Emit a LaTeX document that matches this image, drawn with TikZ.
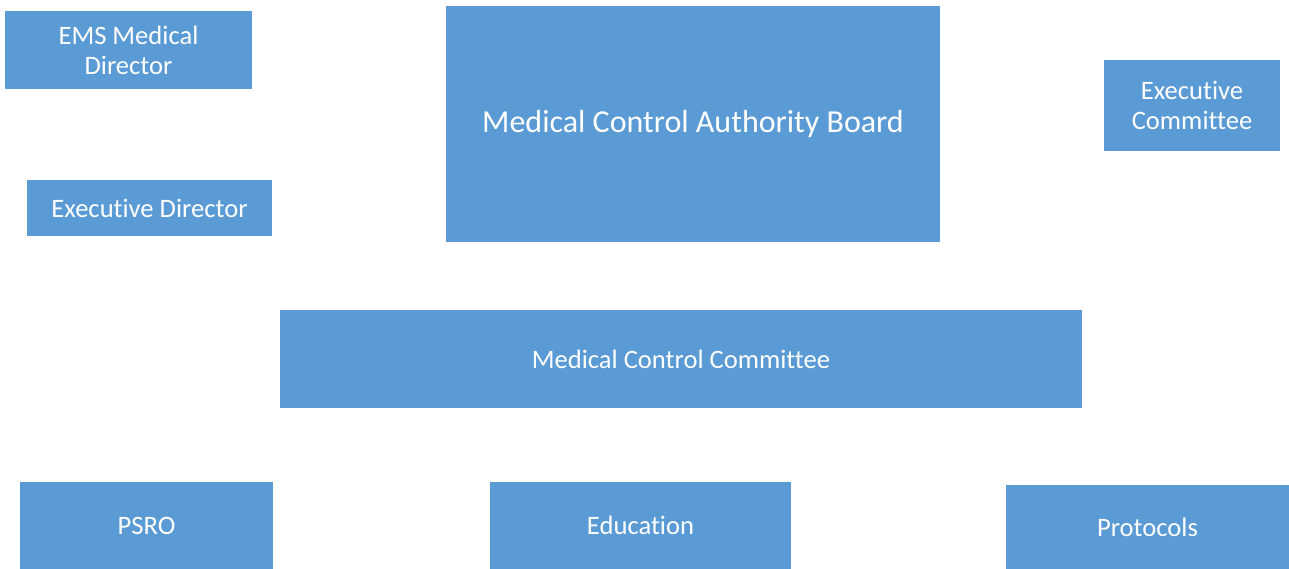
\documentclass[tikz,border=0pt]{standalone}
\usepackage{fontspec}
\setmainfont{Carlito}[Ligatures={NoCommon}]
\definecolor{boxblue}{HTML}{5B9BD5}
\tikzset{
  orgbox/.style={fill=boxblue, draw=none, text=white, align=center, inner sep=0pt, font=\fontsize{26.6}{30}\selectfont},
}
\begin{document}
\begin{tikzpicture}[x=1pt,y=-1pt]
\useasboundingbox (0,0) rectangle (1289,569);
\node[orgbox, minimum width=247pt, minimum height=78pt] (ems) at (128.5,50) {EMS Medical\\Director};
\node[orgbox, minimum width=494pt, minimum height=236pt, font=\fontsize{32}{38}\selectfont] (mcab) at (693,124) {Medical Control Authority Board};
\node[orgbox, minimum width=176pt, minimum height=91pt] (exc) at (1192,105.5) {Executive\\Committee};
\node[orgbox, minimum width=245pt, minimum height=56pt] (exd) at (149.5,208) {Executive Director};
\node[orgbox, minimum width=802pt, minimum height=98pt] (mcc) at (681,359) {Medical Control Committee};
\node[orgbox, minimum width=253pt, minimum height=87pt] (psro) at (146.5,525.5) {PSRO};
\node[orgbox, minimum width=301pt, minimum height=87pt] (edu) at (640.5,525.5) {Education};
\node[orgbox, minimum width=283pt, minimum height=84pt] (prot) at (1147.5,527) {Protocols};
\end{tikzpicture}
\end{document}
